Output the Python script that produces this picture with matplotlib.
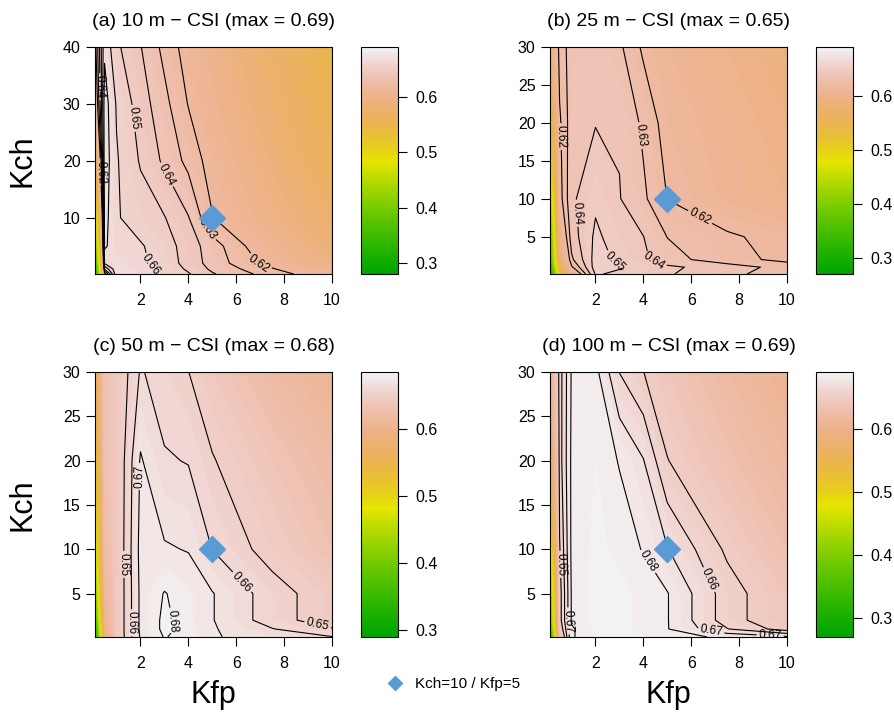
import numpy as np
import matplotlib
matplotlib.use("Agg")
import matplotlib.pyplot as plt
from matplotlib.colors import hsv_to_rgb
from matplotlib.lines import Line2D

plt.rcParams["font.family"] = ["Liberation Sans", "DejaVu Sans"]

# grid of the parameter sweep
kfp = [0.1, 0.5, 1, 2, 3, 4, 5, 7.5, 10]
kch_10m = [0.1, 1, 2, 5, 10, 20, 30, 40]
kch = [0.1, 1, 2, 5, 10, 20, 30]

# CSI values, one row per Kch value (low -> high), columns follow kfp
csi_10m = [
    [0.28, 0.615, 0.668, 0.665, 0.659, 0.651, 0.641, 0.625, 0.611],
    [0.30, 0.642, 0.668, 0.664, 0.658, 0.648, 0.638, 0.621, 0.602],
    [0.32, 0.661, 0.666, 0.662, 0.656, 0.646, 0.636, 0.615, 0.595],
    [0.38, 0.672, 0.663, 0.661, 0.655, 0.645, 0.635, 0.608, 0.585],
    [0.45, 0.674, 0.661, 0.655, 0.6505, 0.6405, 0.6205, 0.598, 0.575],
    [0.55, 0.676, 0.661, 0.649, 0.638, 0.627, 0.615, 0.588, 0.562],
    [0.60, 0.675, 0.659, 0.645, 0.633, 0.6195, 0.607, 0.580, 0.555],
    [0.615, 0.668, 0.652, 0.6405, 0.627, 0.615, 0.601, 0.575, 0.550],
]
csi_25m = [
    [0.27, 0.50, 0.60, 0.651, 0.648, 0.645, 0.641, 0.633, 0.624],
    [0.30, 0.55, 0.618, 0.655, 0.651, 0.646, 0.642, 0.635, 0.626],
    [0.33, 0.58, 0.628, 0.654, 0.648, 0.642, 0.634, 0.624, 0.617],
    [0.36, 0.60, 0.635, 0.652, 0.645, 0.6402, 0.6298, 0.622, 0.615],
    [0.42, 0.615, 0.638, 0.648, 0.6405, 0.632, 0.6198, 0.608, 0.600],
    [0.52, 0.618, 0.636, 0.6395, 0.639, 0.628, 0.615, 0.605, 0.595],
    [0.58, 0.625, 0.634, 0.638, 0.632, 0.618, 0.610, 0.600, 0.590],
]
csi_50m = [
    [0.29, 0.58, 0.64, 0.671, 0.6805, 0.677, 0.671, 0.665, 0.6605],
    [0.31, 0.59, 0.64, 0.672, 0.682, 0.677, 0.671, 0.6605, 0.651],
    [0.35, 0.60, 0.64, 0.672, 0.682, 0.676, 0.6705, 0.655, 0.643],
    [0.40, 0.61, 0.64, 0.672, 0.6805, 0.676, 0.6705, 0.655, 0.643],
    [0.45, 0.62, 0.64, 0.673, 0.671, 0.6695, 0.6598, 0.645, 0.630],
    [0.50, 0.63, 0.64, 0.671, 0.661, 0.6595, 0.651, 0.635, 0.620],
    [0.55, 0.63, 0.64, 0.661, 0.655, 0.6502, 0.640, 0.620, 0.605],
]
csi_100m = [
    [0.27, 0.63, 0.679, 0.686, 0.686, 0.685, 0.684, 0.678, 0.672],
    [0.32, 0.64, 0.679, 0.686, 0.686, 0.684, 0.6805, 0.6605, 0.645],
    [0.36, 0.645, 0.681, 0.687, 0.686, 0.684, 0.6805, 0.655, 0.640],
    [0.38, 0.645, 0.681, 0.687, 0.686, 0.684, 0.6805, 0.655, 0.640],
    [0.45, 0.649, 0.682, 0.686, 0.684, 0.6795, 0.6705, 0.648, 0.630],
    [0.55, 0.655, 0.682, 0.685, 0.6795, 0.6705, 0.6505, 0.632, 0.615],
    [0.60, 0.655, 0.681, 0.683, 0.6598, 0.6502, 0.640, 0.620, 0.605],
]

titles = ["(a) 10 m \u2212 CSI (max = 0.69)", "(b) 25 m \u2212 CSI (max = 0.65)",
          "(c) 50 m \u2212 CSI (max = 0.68)", "(d) 100 m \u2212 CSI (max = 0.69)"]
z_ranges = [(0.28, 0.69), (0.27, 0.69), (0.29, 0.685), (0.27, 0.69)]
line_levels = [
    [0.62, 0.63, 0.64, 0.65, 0.66, 0.67],
    [0.62, 0.63, 0.64, 0.65],
    [0.65, 0.66, 0.67, 0.68],
    [0.65, 0.66, 0.67, 0.68],
]
label_spots = [
    [(0.28, 33), (0.15, 18), (1.6, 27.4), (3.2, 17.8), (4.8, 8), (2.5, 2.1), (6.9, 1.3)],
    [(0.58, 18.2), (1.2, 8.1), (3.5, 18.2), (6.15, 6.3), (3.0, 2.8), (4.5, 2.4)],
    [(2.1, 18.2), (1.3, 8.3), (1.7, 1.7), (6.2, 6.2), (3.3, 1.9), (9.4, 1.5)],
    [(0.55, 8.3), (0.8, 1.9), (4.3, 8.8), (6.6, 6.4), (6.8, 0.4), (9.3, 0.4)],
]
ref_kfp, ref_kch = 5, 10
ref_label = "Kch=10 / Kfp=5"
diamond_blue = "#5B9BD5"


def terrain_colors(n):
    # same construction as R's terrain.colors()
    k = n // 2
    m = n - k + 1
    h = np.r_[np.linspace(4 / 12, 2 / 12, k), np.linspace(2 / 12, 0, m)[1:]]
    s = np.r_[np.ones(k), np.linspace(1, 0, m)[1:]]
    v = np.r_[np.linspace(0.65, 0.9, k), np.linspace(0.9, 0.95, m)[1:]]
    return hsv_to_rgb(np.column_stack([h, s, v]))


W, H = 895, 718
fig = plt.figure(figsize=(W / 100, H / 100), dpi=100)


def box(x0, y0, x1, y1):
    return [x0 / W, 1 - y1 / H, (x1 - x0) / W, (y1 - y0) / H]


plot_boxes = [box(95, 47, 332, 274), box(550, 47, 787, 274),
              box(95, 372, 332, 637), box(550, 372, 787, 637)]
bar_boxes = [box(361, 47, 398, 274), box(816, 47, 853, 274),
             box(361, 372, 398, 637), box(816, 372, 853, 637)]

grids = [csi_10m, csi_25m, csi_50m, csi_100m]
ys = [kch_10m, kch, kch, kch]

for i in range(4):
    ax = fig.add_axes(plot_boxes[i])
    z = np.array(grids[i])
    lo, hi = z_ranges[i]
    levels = np.round(np.arange(lo, hi + 0.0001, 0.005), 3)
    cf = ax.contourf(kfp, ys[i], z, levels=levels,
                     colors=terrain_colors(len(levels) - 1))
    cs = ax.contour(kfp, ys[i], z, levels=line_levels[i], colors="black",
                    linewidths=0.8)
    ax.clabel(cs, fmt="%.2f", fontsize=8.5, inline=True, inline_spacing=2,
              manual=label_spots[i])
    ax.plot(ref_kfp, ref_kch, marker="D", ms=13, color=diamond_blue, ls="none",
            zorder=5)
    ax.set_xlim(0.1, 10)
    ax.set_ylim(0.1, ys[i][-1])
    ax.set_xticks([2, 4, 6, 8, 10])
    if i == 0:
        ax.set_yticks([10, 20, 30, 40])
    else:
        ax.set_yticks([5, 10, 15, 20, 25, 30])
    ax.tick_params(direction="out", length=6.5, width=0.8, labelsize=11.5,
                   pad=4)
    ax.tick_params(axis="x", pad=7)
    for sp in ax.spines.values():
        sp.set_linewidth(0.8)
    ax.set_title(titles[i], fontsize=14, pad=15)

    cax = fig.add_axes(bar_boxes[i])
    cb = fig.colorbar(cf, cax=cax, ticks=[0.3, 0.4, 0.5, 0.6])
    cb.outline.set_linewidth(0.8)
    cax.tick_params(direction="out", length=6.5, width=0.8, labelsize=11.5,
                    pad=6)

# axis titles only on the outer panels
fig.text(23 / W, 1 - 161 / H, "Kch", rotation=90, fontsize=22,
         ha="center", va="center")
fig.text(23 / W, 1 - 505 / H, "Kch", rotation=90, fontsize=22,
         ha="center", va="center")
fig.text(213 / W, 1 - 695 / H, "Kfp", fontsize=22, ha="center", va="center")
fig.text(668 / W, 1 - 695 / H, "Kfp", fontsize=22, ha="center", va="center")

handle = Line2D([], [], marker="D", ms=7, color=diamond_blue, ls="none")
fig.legend([handle], [ref_label], loc="center", frameon=False, fontsize=11,
           bbox_to_anchor=(450 / W, 1 - 684 / H), handletextpad=0.3)

fig.savefig("out.png", dpi=100)
